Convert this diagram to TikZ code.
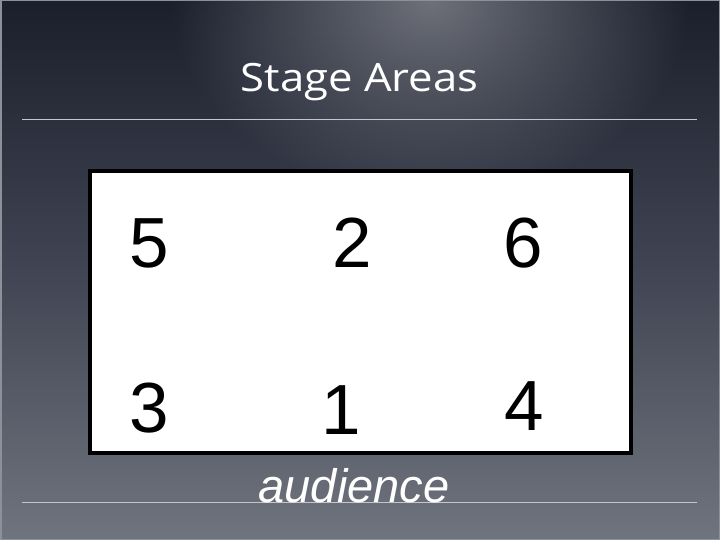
\documentclass[tikz,border=0pt]{standalone}
\usepackage{fontspec}
\setmainfont{Liberation Sans}
\newfontfamily\titlefont{Open Sans}
\usetikzlibrary{fadings}
\definecolor{bgtop}{HTML}{1B1F2C}
\definecolor{bgmid}{HTML}{414553}
\definecolor{bgbot}{HTML}{70747E}
\definecolor{glowc}{HTML}{6E717A}
\definecolor{rulec}{HTML}{C4C6CC}
\definecolor{framec}{HTML}{8C9098}
\tikzfading[name=glowfade, inner color=transparent!0, outer color=transparent!100]
\tikzset{
  digit/.style={font=\fontsize{71}{71}\selectfont, text=black, inner sep=0pt, anchor=base},
  rulel/.style={draw=rulec, line width=1pt},
}
\begin{document}
\begin{tikzpicture}[x=1pt,y=-1pt]
\useasboundingbox (0,0) rectangle (720,540);
\shade[top color=bgtop, bottom color=bgbot, middle color=bgmid] (0,0) rectangle (720,540);
\fill[glowc, path fading=glowfade] (430,0) ellipse [x radius=260, y radius=200];
\draw[framec, line width=1.5pt] (0.75,0.75) rectangle (719.25,539.25);
\node[inner sep=0pt, anchor=base, text=white, font=\titlefont\fontsize{39}{39}\selectfont] (title) at (359.5,92) {\scalebox{1.12}[1]{Stage Areas}};
\coordinate (t1) at (22,120);
\coordinate (t2) at (697,120);
\draw[rulel] (t1) -- (t2);
\coordinate (b1) at (22,502.5);
\coordinate (b2) at (697,502.5);
\draw[rulel] (b1) -- (b2);
\node[draw=black, fill=white, line width=3.6pt, minimum width=541pt, minimum height=282pt, inner sep=0pt] (stage) at (360.5,312) {};
\node[digit] (n5) at (149.7,267) {5};
\node[digit] (n2) at (352,267) {2};
\node[digit] (n6) at (523.3,267) {6};
\node[digit] (n3) at (149.7,432.3) {3};
\node[digit] (n1) at (341.7,434.3) {1};
\node[digit] (n4) at (523.9,430) {4};
\node[inner sep=0pt, anchor=base, text=white, font=\itshape\fontsize{47}{47}\selectfont] (aud) at (354,502.5) {audience};
\end{tikzpicture}
\end{document}
